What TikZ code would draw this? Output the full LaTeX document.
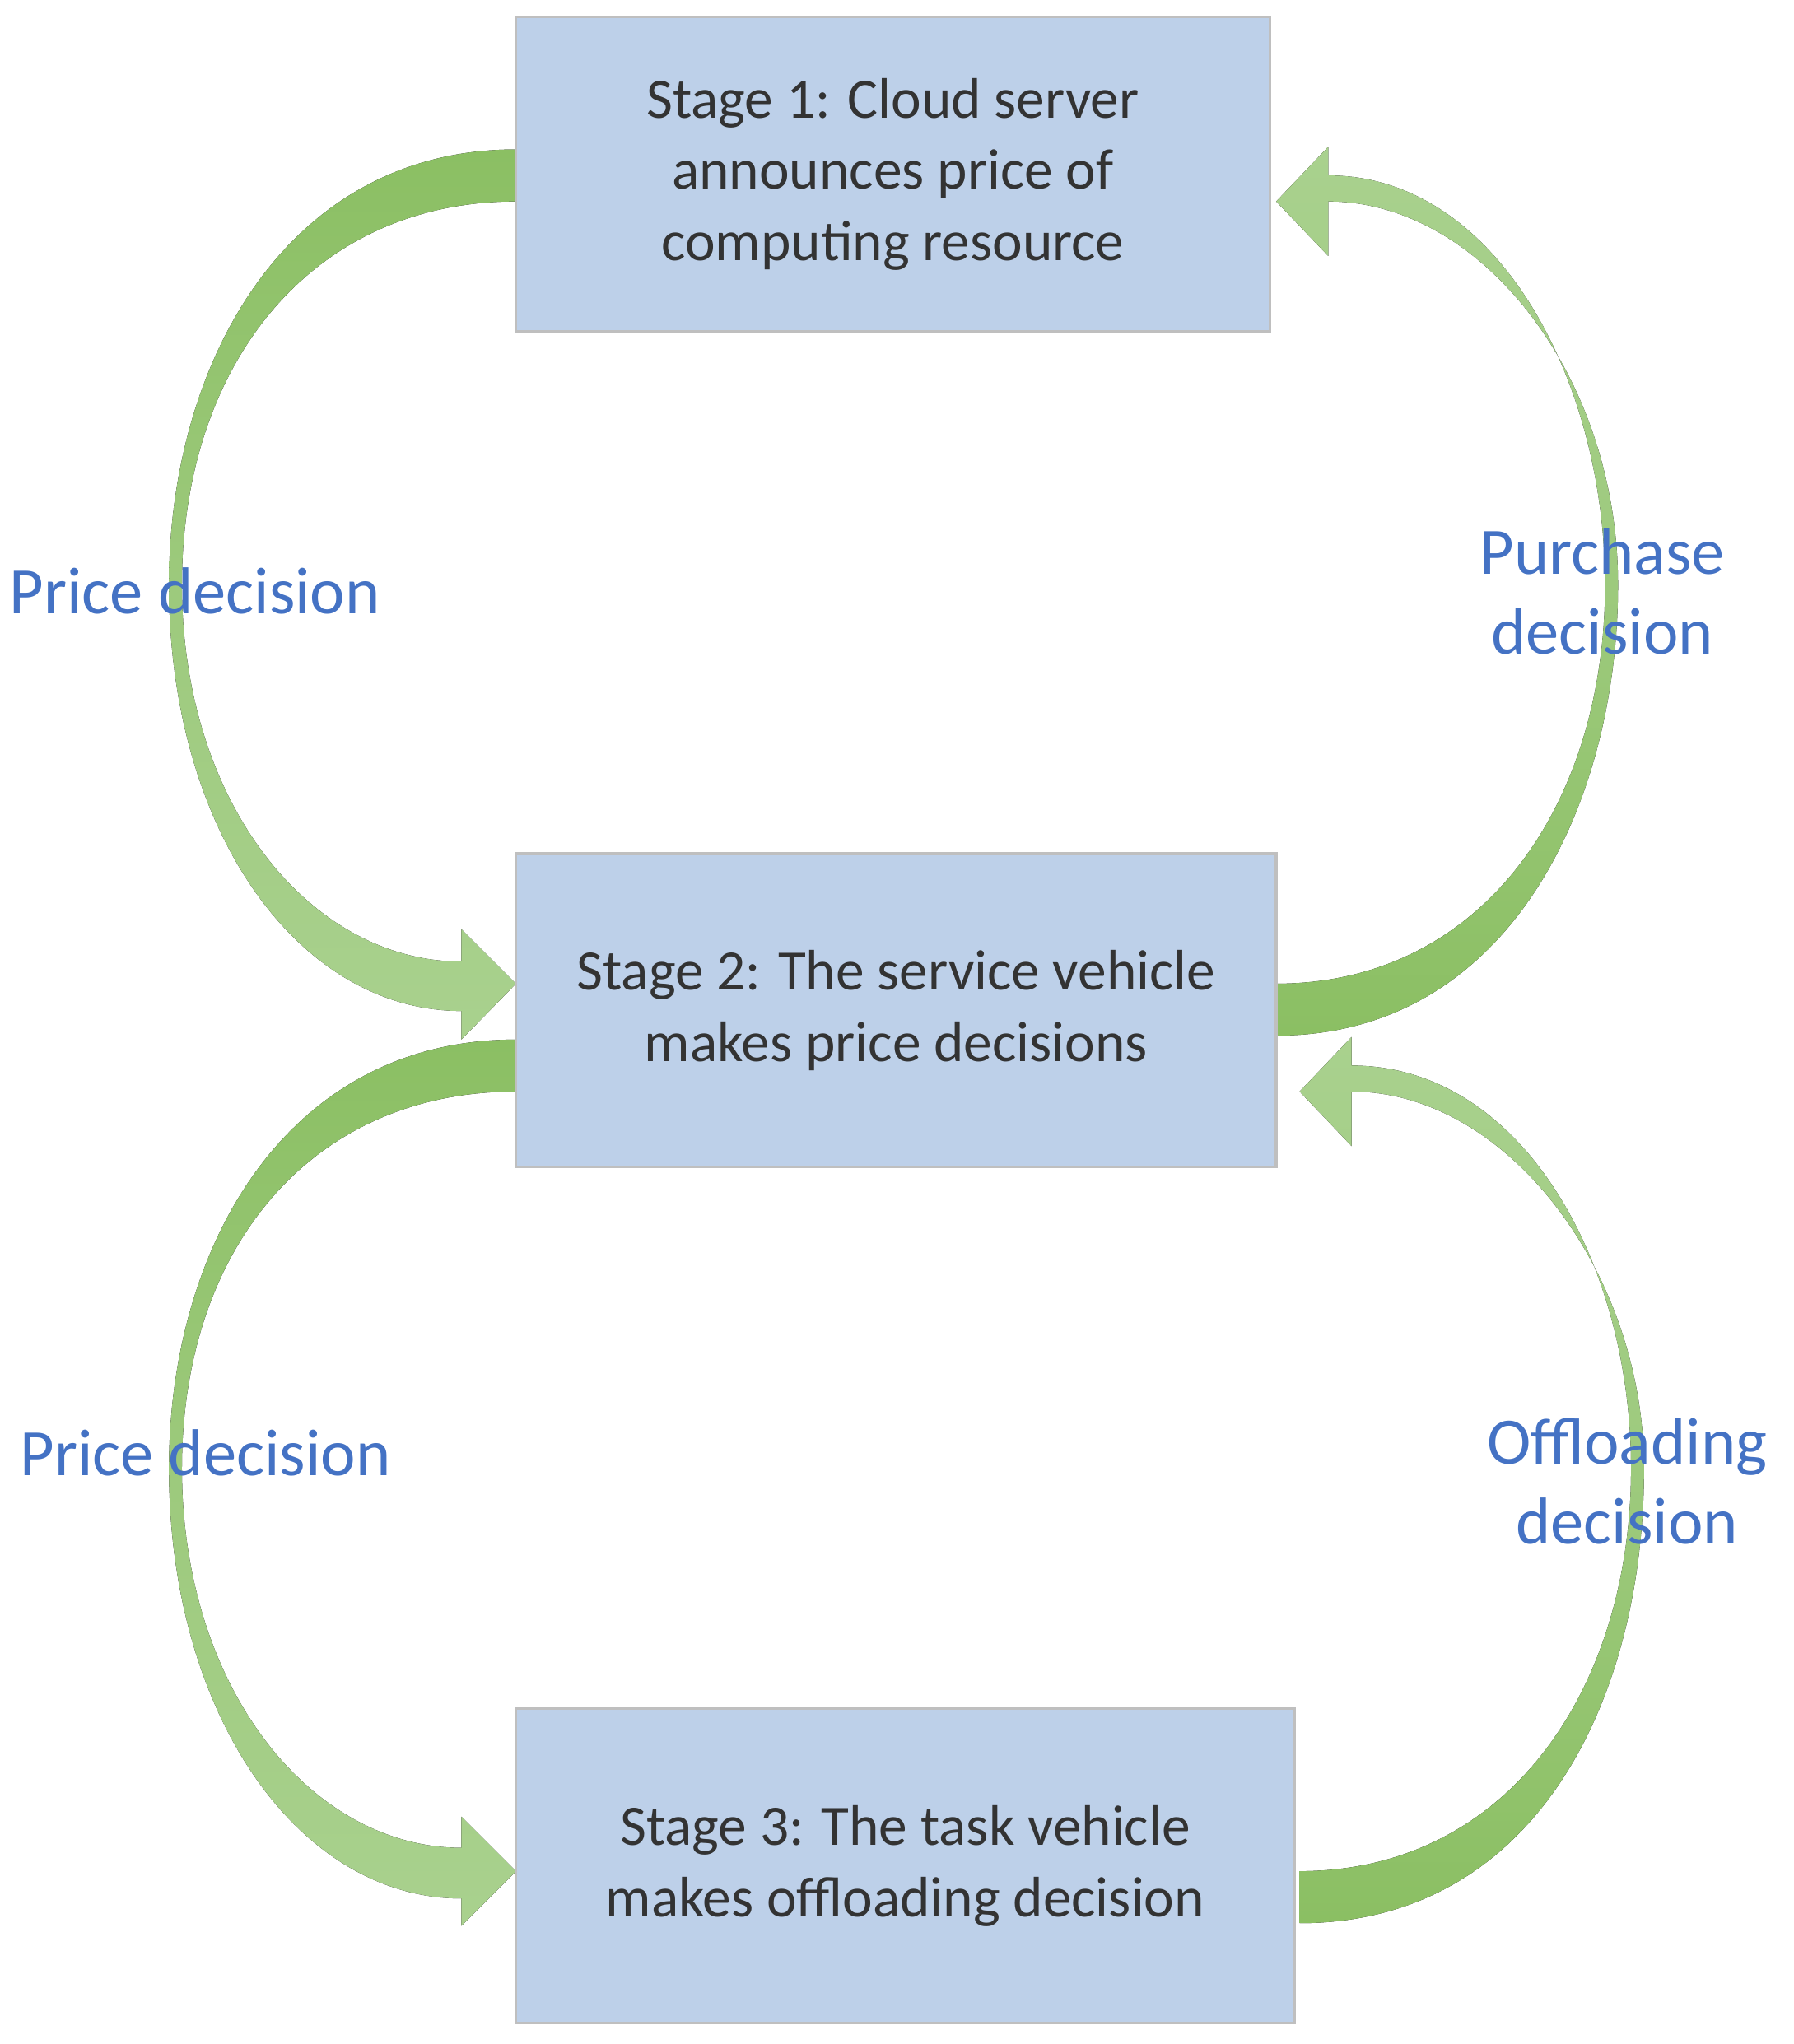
\documentclass[tikz,border=0pt]{standalone}
\usepackage{fontspec}
\setmainfont{Carlito}
\begin{document}
\begin{tikzpicture}[x=0.01cm,y=-0.01cm,
 box/.style={draw=black!25,line width=0.6pt,fill=boxblue,inner sep=0,align=center,font=\fontsize{12.5}{15.6}\selectfont,text=black!80},
 lab/.style={text=labblue,align=center,font=\fontsize{14.5}{17.5}\selectfont},
 arrA/.style={top color=gdark,bottom color=glight,draw=none},
 arrB/.style={top color=glight,bottom color=gdark,draw=none}]
\definecolor{boxblue}{HTML}{BDD0E9}
\definecolor{labblue}{HTML}{4472C4}
\definecolor{gdark}{HTML}{8BBF63}
\definecolor{glight}{HTML}{A9D18E}
\useasboundingbox (0,0) rectangle (1380,1573);
% arrows
\fill[arrA,shading angle=0,top color=gdark,bottom color=glight,middle color=glight!60!gdark] (397,115) .. controls (220,115) and (130,280) .. (130,450) .. controls (130,640) and (230,778) .. (355,778) -- (355,800) -- (397,757) -- (355,715) -- (355,740) .. controls (240,740) and (140,620) .. (140,450) .. controls (140,280) and (240,155) .. (397,155) -- cycle;
\fill[top color=glight,bottom color=gdark,middle color=glight!60!gdark] (982,797) .. controls (1160,797) and (1245,620) .. (1245,450) .. controls (1245,290) and (1140,155) .. (1022,155) -- (1022,197) -- (982,155) -- (1022,113) -- (1022,135) .. controls (1150,135) and (1235,290) .. (1235,450) .. controls (1235,620) and (1140,757) .. (982,757) -- cycle;
\fill[top color=gdark,bottom color=glight,middle color=glight!60!gdark] (397,800) .. controls (220,800) and (130,960) .. (130,1130) .. controls (130,1320) and (230,1461) .. (355,1461) -- (355,1482) -- (397,1440) -- (355,1398) -- (355,1422) .. controls (240,1422) and (140,1300) .. (140,1130) .. controls (140,960) and (240,840) .. (397,840) -- cycle;
\fill[top color=glight,bottom color=gdark,middle color=glight!60!gdark] (1000,1480) .. controls (1180,1480) and (1265,1310) .. (1265,1130) .. controls (1265,980) and (1160,840) .. (1040,840) -- (1040,882) -- (1000,840) -- (1040,798) -- (1040,820) .. controls (1170,820) and (1255,970) .. (1255,1130) .. controls (1255,1300) and (1160,1440) .. (1000,1440) -- cycle;
% boxes
\node[box,minimum width=580*0.01cm,minimum height=242*0.01cm] (s1) at (687,134) {Stage 1: Cloud server\\announces price of\\computing resource};
\node[box,minimum width=585*0.01cm,minimum height=241*0.01cm] (s2) at (689.5,777.5) {Stage 2: The service vehicle\\makes price decisions};
\node[box,minimum width=599*0.01cm,minimum height=242*0.01cm] (s3) at (696.5,1436) {Stage 3: The task vehicle\\makes offloading decision};
% labels
\node[lab] (l1) at (150,455) {Price decision};
\node[lab] (l2) at (1233,455) {Purchase\\decision};
\node[lab] (l3) at (158,1118) {Price decision};
\node[lab] (l4) at (1252,1140) {Offloading\\decision};
\end{tikzpicture}
\end{document}
